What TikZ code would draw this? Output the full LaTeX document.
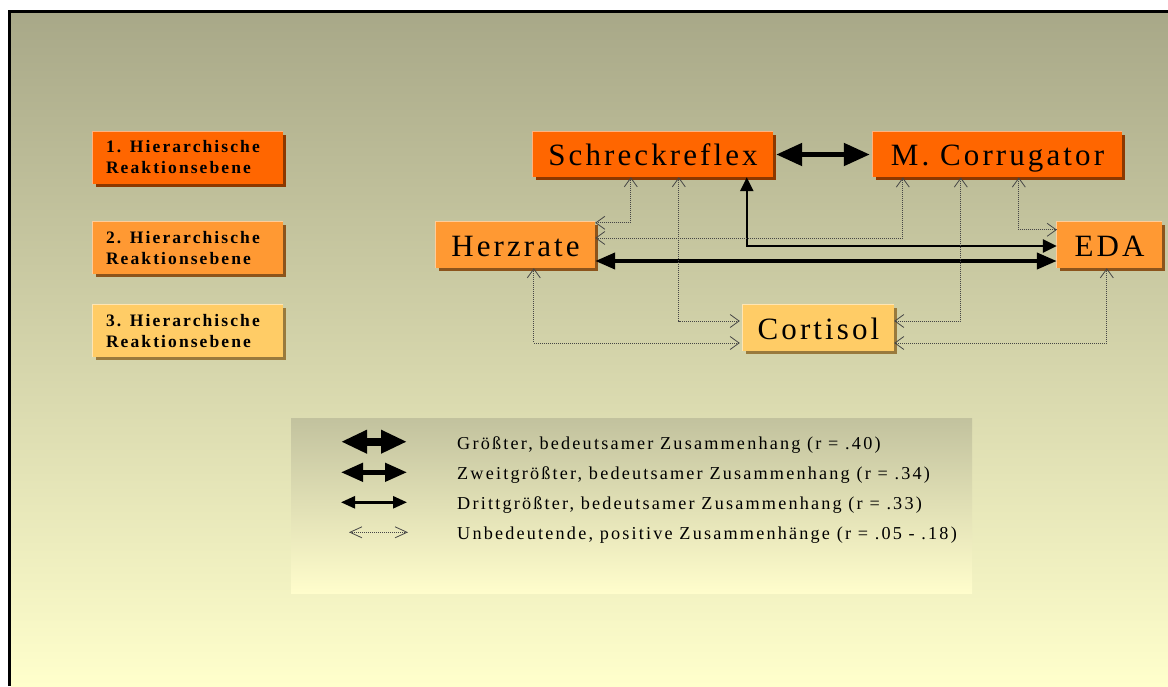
\documentclass[tikz,border=0pt]{standalone}
\usepackage{fontspec}
\setmainfont{Liberation Serif}
\newfontfamily\nodefont[LetterSpace=10]{Liberation Serif}
\newfontfamily\lvlfont[LetterSpace=12]{Liberation Serif}
\newfontfamily\legfont[LetterSpace=12]{Liberation Serif}
\usetikzlibrary{arrows.meta,calc,shadows}
\definecolor{bgtop}{RGB}{168,168,136}
\definecolor{bgbot}{RGB}{255,255,204}
\definecolor{lvla}{RGB}{255,102,0}
\definecolor{lvlb}{RGB}{255,153,51}
\definecolor{lvlc}{RGB}{255,204,102}
\definecolor{legtop}{RGB}{194,194,158}
\definecolor{legbot}{RGB}{255,253,204}
\definecolor{dotc}{RGB}{70,70,70}
\begin{document}
\begin{tikzpicture}[x=1pt,y=-1pt,
  box/.style={inner sep=0pt, text height=22pt, text depth=0pt,
    font=\nodefont\fontsize{31}{31}\selectfont},
  lvlbox/.style={inner sep=0pt, text width=164pt, align=left,
    minimum width=190pt, minimum height=52pt,
    font=\lvlfont\bfseries\fontsize{17.5}{21}\selectfont},
  fa/.style={fill=lvla, general shadow={fill=lvla!55!black, shadow xshift=3pt, shadow yshift=-3pt}},
  fb/.style={fill=lvlb, general shadow={fill=lvlb!55!black, shadow xshift=3pt, shadow yshift=-3pt}},
  fc/.style={fill=lvlc, general shadow={fill=lvlc!60!black, shadow xshift=3pt, shadow yshift=-3pt}},
  arrA/.style={line width=5pt, {Triangle[length=26pt,width=22pt]}-{Triangle[length=26pt,width=22pt]}},
  arrB/.style={line width=4pt, {Triangle[length=20pt,width=16pt]}-{Triangle[length=20pt,width=16pt]}},
  arrC/.style={line width=2.5pt, {Triangle[length=14pt,width=13pt]}-{Triangle[length=14pt,width=13pt]}},
  dotarr/.style={draw=dotc, line width=0.8pt, dash pattern=on 1pt off 1pt,
    {Straight Barb[length=9pt,width=13pt]}-{Straight Barb[length=9pt,width=13pt]}},
  legA/.style={line width=8pt, {Triangle[length=26pt,width=22pt]}-{Triangle[length=26pt,width=22pt]}},
  legB/.style={line width=4.5pt, {Triangle[length=22pt,width=18pt]}-{Triangle[length=22pt,width=18pt]}},
  legC/.style={line width=2.5pt, {Triangle[length=14pt,width=12pt]}-{Triangle[length=14pt,width=12pt]}},
  legD/.style={draw=dotc, line width=0.8pt, dash pattern=on 1pt off 1pt,
    {Straight Barb[length=12pt,width=11pt]}-{Straight Barb[length=12pt,width=11pt]}},
  legtext/.style={anchor=base west, inner sep=0pt, font=\legfont\fontsize{18.2}{18.2}\selectfont},
  hl/.style={line width=1.2pt}
]
\useasboundingbox (0,0) rectangle (1168,686);
% background and frame
\fill[white] (0,0) rectangle (1168,686);
\shade[top color=bgtop, bottom color=bgbot] (10.5,12.3) rectangle (1168,686);
\draw[line width=2.6pt] (9.3,686) -- (9.3,11.2) -- (1168,11.2);

% level legend boxes
\node[lvlbox, fa] (l1) at (188,157.5) {1. Hierarchische\\Reaktionsebene};
\node[lvlbox, fb] (l2) at (188,248) {2. Hierarchische\\Reaktionsebene};
\node[lvlbox, fc] (l3) at (188,331) {3. Hierarchische\\Reaktionsebene};

% main nodes
\node[box, fa, minimum width=240pt, minimum height=45pt] (sr) at (653,154.5) {Schreckreflex};
\node[box, fa, minimum width=249pt, minimum height=45.5pt] (mc) at (997.5,154.5) {M. Corrugator};
\node[box, fb, minimum width=159pt, minimum height=46pt] (hr) at (515.5,245) {Herzrate};
\node[box, fb, minimum width=105pt, minimum height=46pt] (eda) at (1109.5,245) {EDA};
\node[box, fc, minimum width=151pt, minimum height=46pt] (co) at (818.5,328) {Cortisol};

% highlight edges
\foreach \n/\c in {l1/lvla,l2/lvlb,l3/lvlc,sr/lvla,mc/lvla,hr/lvlb,eda/lvlb,co/lvlc}
  \draw[hl, \c!50!white] (\n.south west) -- (\n.north west) -- (\n.north east);

% significant connections
\draw[arrA, shorten <=3pt, shorten >=3pt] (sr.east) -- (mc.west);
\draw[arrB] ($(hr.east)+(0,16)$) -- ($(eda.west)+(0,16)$);
\draw[arrC] ($(sr.south west)+(214,0)$) |- ($(eda.west)+(0,1)$);

% insignificant connections
\draw[dotarr] ($(sr.south west)+(98,0)$) |- ($(hr.north east)+(0,1)$);
\draw[dotarr] ($(hr.east)+(0,-7)$) -| ($(mc.south west)+(30,0)$);
\draw[dotarr, shorten >=3pt] ($(sr.south west)+(146,0)$) |- ($(co.west)+(0,-7)$);
\draw[dotarr, shorten >=3pt] ($(hr.south west)+(98,0)$) |- ($(co.west)+(0,15)$);
\draw[dotarr] ($(mc.south west)+(88,0)$) |- ($(co.east)+(0,-7)$);
\draw[dotarr] ($(mc.south west)+(146,0)$) |- ($(eda.north west)+(0,8)$);
\draw[dotarr] ($(eda.south west)+(50,0)$) |- ($(co.east)+(0,15)$);

% legend
\node[inner sep=0pt, minimum width=681pt, minimum height=175pt,
  top color=legtop, bottom color=legbot] (legend) at (631.5,505.5) {};
\coordinate (a1) at (341,441.7); \coordinate (b1) at (407,441.7);
\coordinate (a2) at (341,472.3); \coordinate (b2) at (407,472.3);
\coordinate (a3) at (341,502.3); \coordinate (b3) at (407,502.3);
\coordinate (a4) at (349,532.3); \coordinate (b4) at (408,532.3);
\draw[legA] (a1) -- (b1);
\draw[legB] (a2) -- (b2);
\draw[legC] (a3) -- (b3);
\draw[legD] (a4) -- (b4);
\node[legtext] (t1) at (457,449.3) {Größter, bedeutsamer Zusammenhang (r = .40)};
\node[legtext] (t2) at (457,479.3) {Zweitgrößter, bedeutsamer Zusammenhang (r = .34)};
\node[legtext] (t3) at (457,509.3) {Drittgrößter, bedeutsamer Zusammenhang (r = .33)};
\node[legtext] (t4) at (457,539) {Unbedeutende, positive Zusammenhänge (r = .05 - .18)};
\end{tikzpicture}
\end{document}
